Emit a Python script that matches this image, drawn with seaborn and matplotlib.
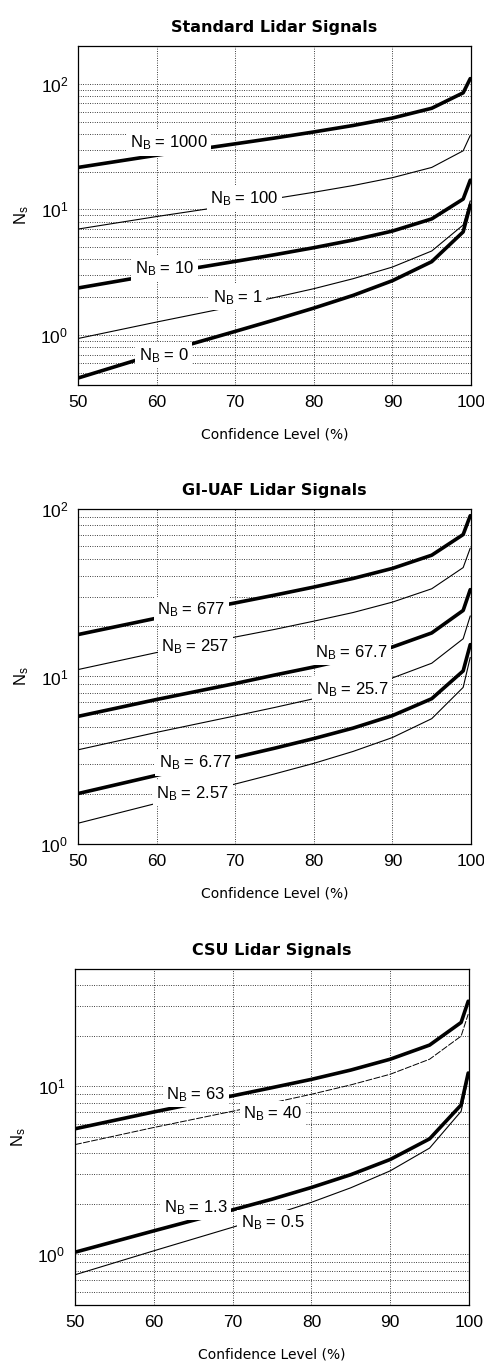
import matplotlib
matplotlib.use("Agg")
import matplotlib.pyplot as plt
import seaborn as sns
from matplotlib.ticker import (LogLocator, LogFormatterSciNotation,
                               NullFormatter)

# Confidence levels (%) at which the required signal counts are tabulated
confidence = [50, 60, 70, 75, 80, 85, 90, 95, 99, 99.9]

# --- Standard lidar: required signal counts N_s for each background N_B ---
std_nb0 = [0.455, 0.708, 1.07, 1.32, 1.64, 2.07, 2.71, 3.84, 6.63, 10.8]
std_nb1 = [0.939, 1.27, 1.70, 1.99, 2.34, 2.81, 3.48, 4.67, 7.52, 11.7]
std_nb10 = [2.37, 3.04, 3.86, 4.36, 4.96, 5.71, 6.73, 8.41, 12.1, 17.1]
std_nb100 = [6.98, 8.78, 10.9, 12.2, 13.7, 15.5, 17.9, 21.6, 29.3, 38.8]
std_nb1000 = [21.6, 27.0, 33.3, 37.0, 41.4, 46.6, 53.4, 63.9, 84.8, 110]

# --- GI-UAF lidar ---
gi_nb2_57 = [1.33, 1.75, 2.28, 2.62, 3.03, 3.57, 4.32, 5.60, 8.61, 13.0]
gi_nb6_77 = [2.00, 2.57, 3.29, 3.73, 4.26, 4.92, 5.84, 7.37, 10.8, 15.5]
gi_nb25_7 = [3.65, 4.64, 5.82, 6.53, 7.37, 8.41, 9.80, 12.0, 16.8, 23.0]
gi_nb67_7 = [5.78, 7.29, 9.08, 10.2, 11.4, 12.9, 15.0, 18.2, 24.8, 33.0]
gi_nb257 = [11.0, 13.9, 17.2, 19.1, 21.4, 24.1, 27.8, 33.4, 44.7, 58.4]
gi_nb677 = [17.8, 22.3, 27.5, 30.6, 34.2, 38.5, 44.2, 53.0, 70.4, 91.2]

# --- CSU lidar ---
csu_nb0_5 = [0.756, 1.05, 1.45, 1.71, 2.04, 2.49, 3.14, 4.29, 7.10, 11.3]
csu_nb1_3 = [1.03, 1.38, 1.84, 2.13, 2.50, 2.98, 3.67, 4.87, 7.75, 12.0]
csu_nb40 = [4.50, 5.69, 7.11, 7.97, 8.97, 10.2, 11.8, 14.5, 19.9, 26.9]
csu_nb63 = [5.59, 7.04, 8.78, 9.82, 11.0, 12.5, 14.5, 17.6, 24.0, 32.1]

# Panel titles, axis texts and curve labels
titles = ["Standard Lidar Signals", "GI-UAF Lidar Signals", "CSU Lidar Signals"]
xlabel = "Confidence Level (%)"
ylabel = r"N$_\mathregular{s}$"
x_ticks = [50, 60, 70, 80, 90, 100]

sns.set_theme(style="white")
plt.rcParams["font.family"] = ["Liberation Sans", "DejaVu Sans"]
plt.rcParams["mathtext.fontset"] = "custom"
plt.rcParams["mathtext.rm"] = "Liberation Sans"
plt.rcParams["mathtext.it"] = "Liberation Sans"
plt.rcParams["text.color"] = "black"
plt.rcParams["axes.labelcolor"] = "black"
plt.rcParams["axes.titlecolor"] = "black"

THICK = 2.6
THIN = 0.8

# (series, background label, line width, dash pattern, label x, label y)
panels = [
    dict(ylim=(0.4, 200), rect=[0.1612, 0.7179, 0.812, 0.2484], curves=[
        (std_nb1000, "1000", THICK, None, 61.5, 34.0),
        (std_nb100, "100", THIN, None, 71.2, 12.3),
        (std_nb10, "10", THICK, None, 61.0, 3.4),
        (std_nb1, "1", THIN, None, 70.3, 2.0),
        (std_nb0, "0", THICK, None, 60.9, 0.69),
    ]),
    dict(ylim=(1, 100), rect=[0.1612, 0.3817, 0.812, 0.2454], curves=[
        (gi_nb677, "677", THICK, None, 64.4, 24.9),
        (gi_nb257, "257", THIN, None, 64.9, 15.1),
        (gi_nb67_7, "67.7", THICK, None, 84.8, 13.9),
        (gi_nb25_7, "25.7", THIN, None, 84.9, 8.4),
        (gi_nb6_77, "6.77", THICK, None, 64.9, 3.04),
        (gi_nb2_57, "2.57", THIN, None, 64.6, 2.01),
    ]),
    dict(ylim=(0.5, 50), rect=[0.155, 0.0440, 0.814, 0.2462], curves=[
        (csu_nb63, "63", THICK, None, 65.3, 8.96),
        (csu_nb40, "40", 0.7, (0, (7, 1.5)), 75.1, 6.9),
        (csu_nb1_3, "1.3", THICK, None, 65.3, 1.9),
        (csu_nb0_5, "0.5", THIN, None, 75.1, 1.55),
    ]),
]

fig = plt.figure(figsize=(4.84, 13.65), dpi=100)

for title, panel in zip(titles, panels):
    ax = fig.add_axes(panel["rect"])
    for values, nb, lw, dash, lx, ly in panel["curves"]:
        sns.lineplot(x=confidence, y=values, ax=ax, color="black",
                     linewidth=lw, zorder=3)
        if dash is not None:
            ax.lines[-1].set_linestyle(dash)
        ax.text(lx, ly, r"N$_\mathregular{B}$ = " + nb, fontsize=12,
                ha="center", va="center", zorder=5, color="black",
                bbox=dict(facecolor="white", edgecolor="none", pad=2.5))

    ax.set_yscale("log")
    ax.set_xlim(50, 100)
    ax.set_ylim(*panel["ylim"])
    ax.set_xticks(x_ticks)
    ax.yaxis.set_major_locator(LogLocator(base=10))
    ax.yaxis.set_minor_locator(LogLocator(base=10, subs=range(2, 10)))
    ax.yaxis.set_major_formatter(LogFormatterSciNotation())
    ax.yaxis.set_minor_formatter(NullFormatter())

    grid_style = dict(color="black", linestyle=(0, (1, 1.8)), linewidth=0.6)
    ax.grid(True, which="major", axis="both", **grid_style)
    ax.grid(True, which="minor", axis="y", **grid_style)
    ax.set_axisbelow(True)

    for side in ax.spines.values():
        side.set_color("black")
        side.set_linewidth(0.9)
    ax.tick_params(axis="both", which="both", length=0, labelsize=12.5,
                   colors="black", pad=7)

    ax.set_title(title, fontsize=11.5, fontweight="bold",
                 family="DejaVu Sans", pad=10, color="black")
    ax.set_xlabel(xlabel, fontsize=10, family="DejaVu Sans", labelpad=13)
    ax.set_ylabel(ylabel, fontsize=12, labelpad=7)

fig.savefig("out.png", dpi=100, facecolor="white")
